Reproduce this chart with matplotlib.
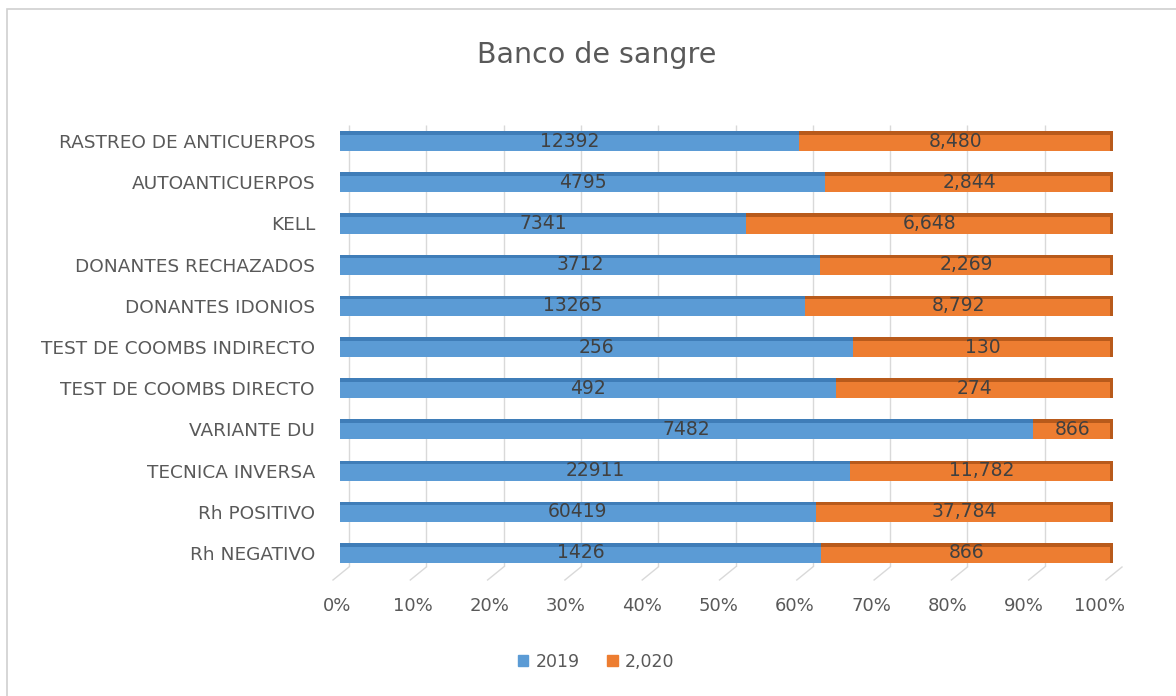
import matplotlib.pyplot as plt
import numpy as np
from matplotlib.transforms import ScaledTranslation
from matplotlib.patches import Rectangle
from matplotlib.lines import Line2D

plt.rcParams['font.family'] = ['DejaVu Sans']

# categorias de abajo hacia arriba
categorias = ['Rh NEGATIVO', 'Rh POSITIVO', 'TECNICA INVERSA', 'VARIANTE DU',
              'TEST DE COOMBS DIRECTO', 'TEST DE COOMBS INDIRECTO',
              'DONANTES IDONIOS', 'DONANTES RECHAZADOS', 'KELL',
              'AUTOANTICUERPOS', 'RASTREO DE ANTICUERPOS']
v2019 = [1426, 60419, 22911, 7482, 492, 256, 13265, 3712, 7341, 4795, 12392]
v2020 = [866, 37784, 11782, 866, 274, 130, 8792, 2269, 6648, 2844, 8480]
ticks = [0, 0.1, 0.2, 0.3, 0.4, 0.5, 0.6, 0.7, 0.8, 0.9, 1.0]
tick_labels = ['0%', '10%', '20%', '30%', '40%', '50%', '60%', '70%', '80%', '90%', '100%']

azul, azul_osc = '#5B9BD5', '#3F7DB8'
naranja, naranja_osc = '#ED7D31', '#B85A1B'
gris = '#595959'

a = np.array(v2019, dtype=float)
b = np.array(v2020, dtype=float)
tot = a + b
pa = a / tot
pb = b / tot
y = np.arange(len(categorias))

fig = plt.figure(figsize=(11.76, 6.96), dpi=100)
W, H = 1176, 696
ax = fig.add_axes([340 / W, 1 - 567 / H, 773 / W, 447 / H])
ax.set_xlim(0, 1)
ax.set_ylim(-0.34, 10.51)

# borde del grafico
fig.patches.append(Rectangle((7 / W, -0.1), 1.2, 1 - 9 / H + 0.1, transform=fig.transFigure,
                             fill=False, edgecolor='#D0D0D0', linewidth=1.2))

# lineas de la pared del fondo (ligeramente desplazadas, efecto 3D)
fondo = ax.transData + ScaledTranslation(9 / 100, 0, fig.dpi_scale_trans)
ax.vlines(ticks, -0.34, 10.4, colors='#D9D9D9', linewidth=1, transform=fondo, zorder=0)
fig.canvas.draw()
for t in ticks:
    x0, y0 = ax.transData.transform((t, -0.34))
    fig.add_artist(Line2D([x0 + 9, x0 - 7], [y0, y0 - 13], transform=None,
                          color='#D9D9D9', linewidth=1))

h = 0.49
ax.barh(y, pa, height=h, color=azul, zorder=2)
ax.barh(y, pb, left=pa, height=h, color=naranja, zorder=2)
# cara superior mas oscura
ax.barh(y + h / 2 - 0.045, pa, height=0.09, color=azul_osc, zorder=3)
ax.barh(y + h / 2 - 0.045, pb, left=pa, height=0.09, color=naranja_osc, zorder=3)
ax.barh(y, 0.004, left=1 - 0.004, height=h, color=naranja_osc, zorder=3)

for i in range(len(y)):
    ax.text(pa[i] / 2, y[i], f'{v2019[i]}', ha='center', va='center',
            fontsize=13.5, color='#404040', zorder=4)
    ax.text(pa[i] + pb[i] / 2, y[i], f'{v2020[i]:,}', ha='center', va='center',
            fontsize=13.5, color='#404040', zorder=4)

ax.set_yticks(y)
ax.set_yticklabels(categorias, fontsize=13.3, color=gris)
ax.tick_params(axis='y', length=0, pad=18)
ax.set_xticks([])
for t, lab in zip(ticks, tick_labels):
    off = ScaledTranslation(-(3 + 10 * t) / 100, -39 / 100, fig.dpi_scale_trans)
    ax.text(t, 0, lab, transform=ax.get_xaxis_transform() + off,
            ha='center', va='center', fontsize=13, color=gris)
for s in ax.spines.values():
    s.set_visible(False)

fig.text(597 / W, 1 - 55 / H, 'Banco de sangre', ha='center', va='center',
         fontsize=20.5, color=gris)

# leyenda
handles = [Rectangle((0, 0), 1, 1, color=azul), Rectangle((0, 0), 1, 1, color=naranja)]
fig.legend(handles, ['2019', '2,020'], loc='center', bbox_to_anchor=(596 / W, 1 - 662 / H),
           ncol=2, frameon=False, fontsize=12.5, handlelength=0.6, handleheight=0.6,
           handletextpad=0.4, columnspacing=1.6, labelcolor=gris)

fig.savefig('out.png', dpi=100)
